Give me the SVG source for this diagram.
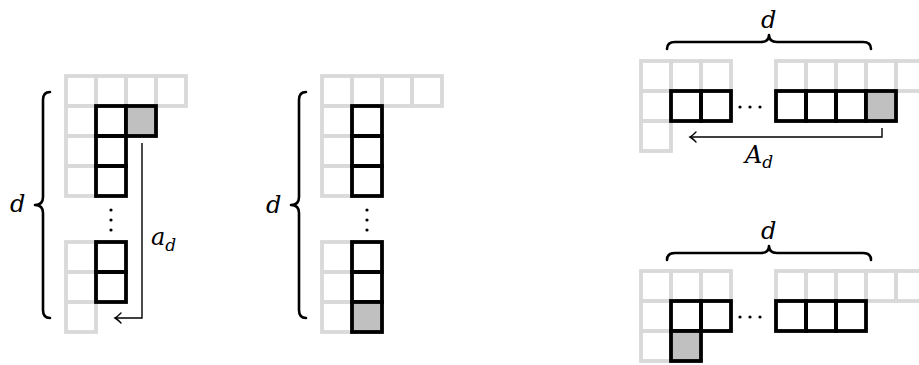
<svg xmlns="http://www.w3.org/2000/svg" width="919" height="365" viewBox="0 0 919 365">
<style>
.g{fill:none;stroke:#d9d9d9;stroke-width:3.8}
.b{fill:none;stroke:#000;stroke-width:3.8}
.f{fill:#c0c0c0;stroke:#000;stroke-width:3.8}
.br{fill:none;stroke:#000;stroke-width:2.6;stroke-linecap:round;stroke-linejoin:round}
.ar{fill:none;stroke:#000;stroke-width:1.4}
.t{font-family:"DejaVu Serif",serif;font-style:italic;font-size:24px;fill:#000}
.s{font-size:17px}
</style>
<defs>
<marker id="ah" markerUnits="userSpaceOnUse" markerWidth="14" markerHeight="14" viewBox="-8 -7 10 14" refX="0" refY="0" orient="auto">
<path d="M -6 -5 Q -2 -1 0 0 Q -2 1 -6 5" fill="none" stroke="#000" stroke-width="1.4" stroke-linecap="round"/>
</marker>
<rect id="c" width="30" height="30"/>
</defs>

<g id="left">
<g class="g">
<use href="#c" x="66" y="76"/><use href="#c" x="96" y="76"/><use href="#c" x="126" y="76"/><use href="#c" x="156" y="76"/>
<use href="#c" x="66" y="106"/><use href="#c" x="66" y="136"/><use href="#c" x="66" y="166"/>
<use href="#c" x="66" y="242"/><use href="#c" x="66" y="272"/><use href="#c" x="66" y="302"/>
</g>
<g class="b">
<use href="#c" x="96" y="106"/><use href="#c" x="96" y="136"/><use href="#c" x="96" y="166"/>
<use href="#c" x="96" y="242"/><use href="#c" x="96" y="272"/>
</g>
<use class="f" href="#c" x="126" y="106"/>
<circle cx="111" cy="210" r="1.6"/><circle cx="111" cy="220" r="1.6"/><circle cx="111" cy="230" r="1.6"/>
<path class="br" d="M 50 92 Q 43 92 43 100 L 43 197 Q 43 205 35 205 Q 43 205 43 213 L 43 310 Q 43 318 50 318"/>
<text class="t" x="10" y="212">d</text>
<text class="t" x="151" y="245">a<tspan class="s" dy="6">d</tspan></text>
</g>

<g id="middle">
<g class="g">
<use href="#c" x="322" y="76"/><use href="#c" x="352" y="76"/><use href="#c" x="382" y="76"/><use href="#c" x="412" y="76"/>
<use href="#c" x="322" y="106"/><use href="#c" x="322" y="136"/><use href="#c" x="322" y="166"/>
<use href="#c" x="322" y="242"/><use href="#c" x="322" y="272"/><use href="#c" x="322" y="302"/>
</g>
<g class="b">
<use href="#c" x="352" y="106"/><use href="#c" x="352" y="136"/><use href="#c" x="352" y="166"/>
<use href="#c" x="352" y="242"/><use href="#c" x="352" y="272"/>
</g>
<use class="f" href="#c" x="352" y="302"/>
<circle cx="367" cy="210" r="1.6"/><circle cx="367" cy="220" r="1.6"/><circle cx="367" cy="230" r="1.6"/>
<path class="br" d="M 306 92 Q 299 92 299 100 L 299 197 Q 299 205 291 205 Q 299 205 299 213 L 299 310 Q 299 318 306 318"/>
<text class="t" x="266" y="213">d</text>
</g>

<g id="topright">
<g class="g">
<use href="#c" x="641" y="61"/><use href="#c" x="671" y="61"/><use href="#c" x="701" y="61"/>
<use href="#c" x="776" y="61"/><use href="#c" x="806" y="61"/><use href="#c" x="836" y="61"/><use href="#c" x="866" y="61"/><use href="#c" x="896" y="61"/>
<use href="#c" x="641" y="91"/><use href="#c" x="641" y="121"/>
</g>
<g class="b">
<use href="#c" x="671" y="91"/><use href="#c" x="701" y="91"/>
<use href="#c" x="776" y="91"/><use href="#c" x="806" y="91"/><use href="#c" x="836" y="91"/>
</g>
<use class="f" href="#c" x="866" y="91"/>
<circle cx="740" cy="107" r="1.6"/><circle cx="750" cy="107" r="1.6"/><circle cx="760" cy="107" r="1.6"/>
<path class="br" d="M 667 49 Q 667 42 675 42 L 761 42 Q 769 42 769 35 Q 769 42 777 42 L 863 42 Q 871 42 871 49"/>
<text class="t" x="761" y="28">d</text>
<text class="t" x="745" y="163">A<tspan class="s" dy="5">d</tspan></text>
</g>

<g id="bottomright">
<g class="g">
<use href="#c" x="641" y="271"/><use href="#c" x="671" y="271"/><use href="#c" x="701" y="271"/>
<use href="#c" x="776" y="271"/><use href="#c" x="806" y="271"/><use href="#c" x="836" y="271"/><use href="#c" x="866" y="271"/><use href="#c" x="896" y="271"/>
<use href="#c" x="641" y="301"/><use href="#c" x="641" y="331"/>
</g>
<g class="b">
<use href="#c" x="671" y="301"/><use href="#c" x="701" y="301"/>
<use href="#c" x="776" y="301"/><use href="#c" x="806" y="301"/><use href="#c" x="836" y="301"/>
</g>
<use class="f" href="#c" x="671" y="331"/>
<circle cx="740" cy="317" r="1.6"/><circle cx="750" cy="317" r="1.6"/><circle cx="760" cy="317" r="1.6"/>
<path class="br" d="M 667 260 Q 667 253 675 253 L 761 253 Q 769 253 769 246 Q 769 253 777 253 L 863 253 Q 871 253 871 260"/>
<text class="t" x="761" y="239">d</text>
</g>

<g id="connectors">
<path class="ar" d="M 142 143 L 142 318 L 115 318" marker-end="url(#ah)"/>
<path class="ar" d="M 882 128 L 882 137 L 690 137" marker-end="url(#ah)"/>
</g>
</svg>
